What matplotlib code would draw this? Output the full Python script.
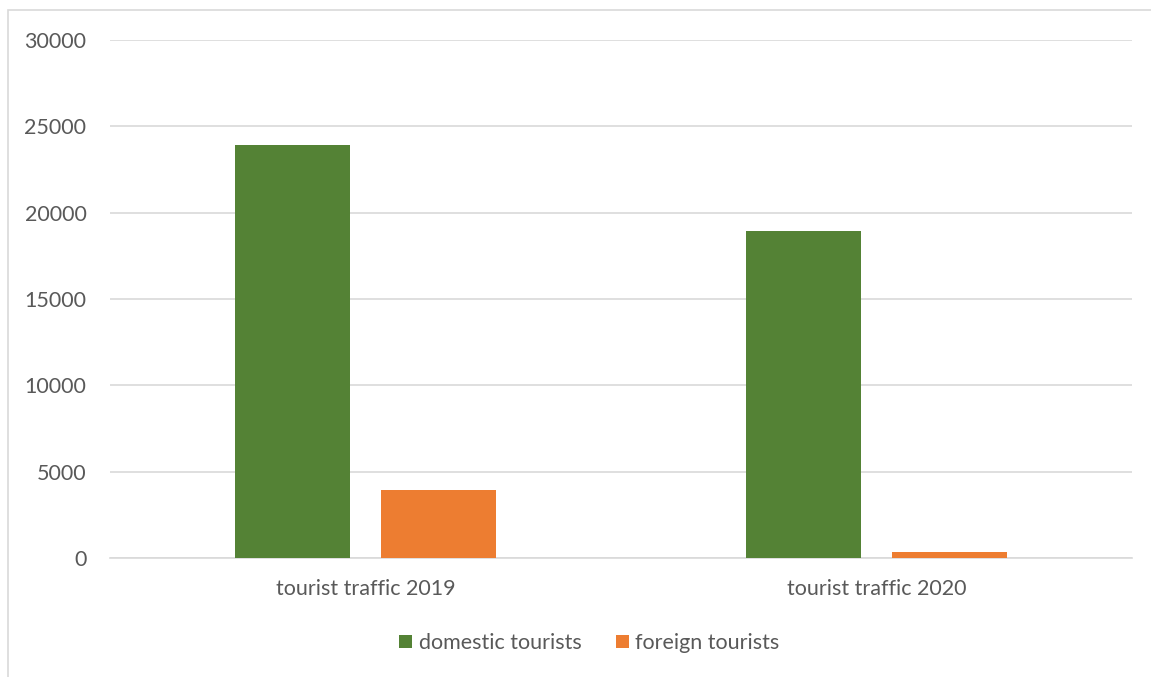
import numpy as np
import matplotlib.pyplot as plt
from matplotlib.patches import Rectangle

# data
categories = ['tourist traffic 2019', 'tourist traffic 2020']
domestic = [23900, 18950]
foreign = [3950, 320]
series_names = ['domestic tourists', 'foreign tourists']
colors = ['#548235', '#ed7d31']
yticks = [0, 5000, 10000, 15000, 20000, 25000, 30000]

plt.rcParams['font.family'] = ['Lato', 'DejaVu Sans']
txt = '#595959'

fig = plt.figure(figsize=(11.51, 6.77), dpi=100)
ax = fig.add_axes([0.0956, 0.1758, 0.888, 0.7651])

x = np.arange(len(categories))
w = 0.225
off = 0.1425
ax.bar(x - off, domestic, w, color=colors[0], label=series_names[0], zorder=3)
ax.bar(x + off, foreign, w, color=colors[1], label=series_names[1], zorder=3)

ax.set_xlim(-0.5, 1.5)
ax.set_ylim(0, 30000)
ax.set_yticks(yticks)
ax.set_yticklabels([str(v) for v in yticks])
ax.set_xticks(x)
ax.set_xticklabels(categories)
ax.yaxis.grid(True, color='#d9d9d9', linewidth=1.2, zorder=0)
for s in ['top', 'right', 'left']:
    ax.spines[s].set_visible(False)
ax.spines['bottom'].set_color('#d9d9d9')
ax.spines['bottom'].set_linewidth(1.2)
ax.tick_params(axis='both', length=0, labelsize=15.5, labelcolor=txt)
ax.tick_params(axis='y', pad=17)
ax.tick_params(axis='x', pad=15)

leg = fig.legend(loc='center', bbox_to_anchor=(0.512, 0.05), ncol=2, frameon=False,
                 fontsize=15.5, handlelength=0.6, handleheight=0.6, columnspacing=1.6,
                 handletextpad=0.3)
for t in leg.get_texts():
    t.set_color(txt)

# chart border
fig.patches.append(Rectangle((0.007, -0.01), 1.2, 0.995, transform=fig.transFigure,
                             fill=False, edgecolor='#d9d9d9', linewidth=1.2))

fig.savefig('out.png', dpi=100)
